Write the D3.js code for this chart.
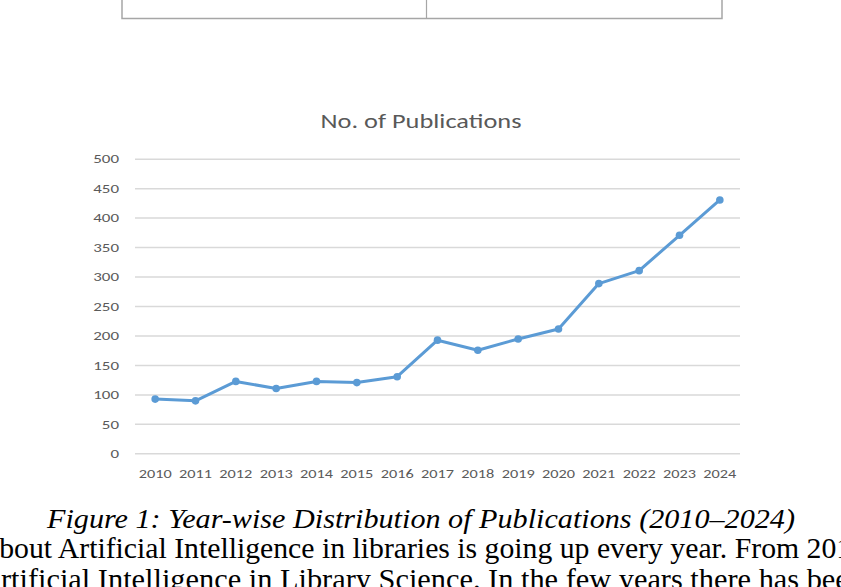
<!DOCTYPE html>
<html>
<head>
<meta charset="utf-8">
<script src="https://cdn.jsdelivr.net/npm/d3@7"></script>
<style>
    body { margin: 0; background: #fff; }
    #chart-area { width: 841px; height: 587px; overflow: hidden; }
    .chart-title { font-family: Carlito, Calibri, "Open Sans", sans-serif; fill: #595959; }
    .axis text { font-family: Carlito, Calibri, "Open Sans", sans-serif; fill: #5a5a5a; }
    .page-text { font-family: "Liberation Serif", "Times New Roman", serif; fill: #000; }
</style>
</head>
<body>
<div id="chart-area"></div>
<script>

// data
let years = ["2010", "2011", "2012", "2013", "2014", "2015", "2016", "2017",
             "2018", "2019", "2020", "2021", "2022", "2023", "2024"];
let publications = [92, 89, 122, 110, 122, 120, 130, 192, 175, 194, 211, 288, 310, 370, 430];
let yTicks = [0, 50, 100, 150, 200, 250, 300, 350, 400, 450, 500];

let chartTitle = "No. of Publications";
let caption = "Figure 1: Year-wise Distribution of Publications (2010\u20132024)";
let bodyLines = [
    "about Artificial Intelligence in libraries is going up every year. From 2010",
    "Artificial Intelligence in Library Science. In the few years there has been"
];


class PublicationsLineVis {

    constructor(parentElement, years, values) {
        this.parentElement = parentElement;
        this.years = years;
        this.values = values;

        this.initVis();
    }

    initVis() {
        let vis = this;

        vis.margin = {top: 158.7, right: 101, bottom: 133.7, left: 135};
        vis.width = 841 - vis.margin.left - vis.margin.right;
        vis.height = 587 - vis.margin.top - vis.margin.bottom;

        vis.root = d3.select("#" + vis.parentElement).append("svg")
            .attr("width", 841)
            .attr("height", 587);

        // bit of the table that sits above the figure on the page
        let table = vis.root.append("g").attr("class", "table-edge");
        table.append("rect")
            .attr("x", 122).attr("y", -10)
            .attr("width", 600).attr("height", 28.5)
            .attr("fill", "none")
            .attr("stroke", "#a6a6a6")
            .attr("stroke-width", 1.5);
        table.append("line")
            .attr("x1", 426.5).attr("x2", 426.5)
            .attr("y1", 0).attr("y2", 18.5)
            .attr("stroke", "#a6a6a6")
            .attr("stroke-width", 1.2);

        vis.svg = vis.root.append("g")
            .attr("transform", "translate(" + vis.margin.left + "," + vis.margin.top + ")");

        // scales and axes
        vis.x = d3.scaleBand()
            .domain(vis.years)
            .range([0, vis.width]);

        vis.y = d3.scaleLinear()
            .domain([0, 500])
            .range([vis.height, 0]);

        vis.yAxis = d3.axisLeft(vis.y)
            .tickValues(yTicks)
            .tickSize(-vis.width)
            .tickPadding(16);

        vis.xAxis = d3.axisBottom(vis.x)
            .tickSize(0)
            .tickPadding(15);

        // gridlines + y labels
        let yG = vis.svg.append("g")
            .attr("class", "y-axis axis")
            .call(vis.yAxis);
        yG.select(".domain").remove();
        yG.selectAll(".tick line")
            .attr("stroke", "#d9d9d9")
            .attr("stroke-width", 1.5);
        yG.selectAll(".tick text")
            .attr("font-size", 13)
            .attr("textLength", d => String(d).length * 8.6)
            .attr("lengthAdjust", "spacingAndGlyphs");

        // x labels
        let xG = vis.svg.append("g")
            .attr("class", "x-axis axis")
            .attr("transform", "translate(0," + vis.height + ")")
            .call(vis.xAxis);
        xG.select(".domain").remove();
        xG.selectAll(".tick text")
            .attr("font-size", 13)
            .attr("textLength", 33)
            .attr("lengthAdjust", "spacingAndGlyphs");

        // chart title
        vis.root.append("text")
            .attr("class", "chart-title")
            .attr("x", 421)
            .attr("y", 128)
            .attr("text-anchor", "middle")
            .attr("font-size", 20)
            .attr("textLength", 201)
            .attr("lengthAdjust", "spacingAndGlyphs")
            .text(chartTitle);

        vis.line = d3.line()
            .x((d, i) => vis.x(vis.years[i]) + vis.x.bandwidth() / 2)
            .y(d => vis.y(d));

        vis.wrangleData();
    }

    wrangleData() {
        let vis = this;
        vis.displayData = vis.values.map((v, i) => ({year: vis.years[i], value: v}));
        vis.updateVis();
    }

    updateVis() {
        let vis = this;

        vis.svg.append("path")
            .datum(vis.values)
            .attr("fill", "none")
            .attr("stroke", "#5b9bd5")
            .attr("stroke-width", 3)
            .attr("stroke-linejoin", "round")
            .attr("d", vis.line);

        vis.svg.selectAll(".marker")
            .data(vis.displayData)
            .enter().append("circle")
            .attr("class", "marker")
            .attr("cx", d => vis.x(d.year) + vis.x.bandwidth() / 2)
            .attr("cy", d => vis.y(d.value))
            .attr("r", 3.8)
            .attr("fill", "#5b9bd5");
    }
}

let vis = new PublicationsLineVis("chart-area", years, publications);

// caption and the surrounding paper text
let page = d3.select("#chart-area svg").append("g").attr("class", "page-text");

page.append("text")
    .attr("x", 421)
    .attr("y", 528)
    .attr("text-anchor", "middle")
    .attr("font-size", 26.5)
    .attr("font-style", "italic")
    .attr("textLength", 748)
    .attr("lengthAdjust", "spacingAndGlyphs")
    .text(caption);

page.selectAll(".body-line")
    .data(bodyLines)
    .enter().append("text")
    .attr("class", "body-line")
    .attr("x", (d, i) => i === 0 ? -14 : -21)
    .attr("y", (d, i) => 558 + i * 31)
    .attr("font-size", 30)
    .attr("textLength", (d, i) => i === 0 ? 880 : 885)
    .attr("lengthAdjust", "spacingAndGlyphs")
    .text(d => d);

</script>
</body>
</html>
